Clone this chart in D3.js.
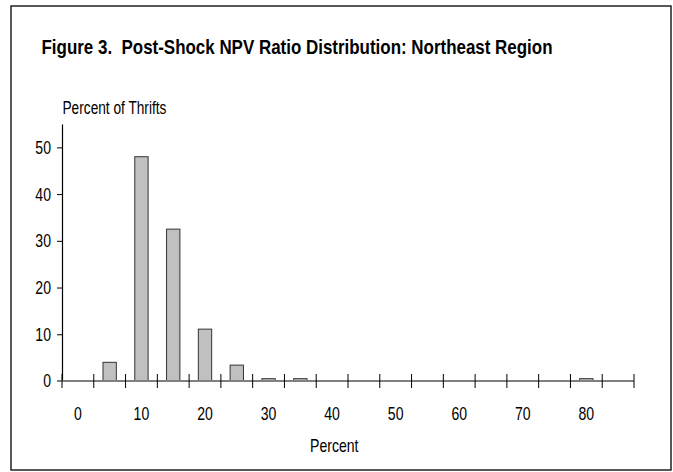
<!DOCTYPE html>
<html>
<head>
<meta charset="utf-8">
<script src="https://cdn.jsdelivr.net/npm/d3@7"></script>
<style>
	body { margin: 0; background: #fff; }
	text { font-family: "Liberation Sans", Arial, sans-serif; fill: #000; }
</style>
</head>
<body>
<svg id="chart"></svg>
<script>
// DATA

var categories = [0, 5, 10, 15, 20, 25, 30, 35, 40, 45, 50, 55, 60, 65, 70, 75, 80, 85];
var percentOfThrifts = [0, 4, 48, 32.5, 11.1, 3.4, 0.5, 0.5, 0, 0, 0, 0, 0, 0, 0, 0, 0.5, 0];
var xTickLabels = [0, 10, 20, 30, 40, 50, 60, 70, 80];
var yTicks = [0, 10, 20, 30, 40, 50];

// DIMENSIONS

var width = 673,
	height = 472,
	plotLeft = 62,
	plotRight = 634,
	plotTop = 124,
	plotBottom = 381,
	narrow = 0.76; // squeeze Liberation Sans to look like Arial Narrow

var svg = d3.select("#chart")
	.attr('width', width)
	.attr('height', height);

// squeeze a text selection horizontally
function condense(sel, factor) {
	sel.each(function() {
		var len = this.getComputedTextLength();
		d3.select(this)
			.attr('textLength', len * (factor || narrow))
			.attr('lengthAdjust', 'spacingAndGlyphs');
	});
}

// frame
svg.append('rect')
	.attr('x', 11)
	.attr('y', 6)
	.attr('width', 660)
	.attr('height', 464)
	.style('fill', 'none')
	.style('stroke', '#222')
	.style('stroke-width', 1.5);

svg.append('text')
	.attr('x', 41.5)
	.attr('y', 54)
	.style('font-size', '21px')
	.style('font-weight', 'bold')
	.attr('xml:space', 'preserve')
	.attr('textLength', 511)
	.attr('lengthAdjust', 'spacingAndGlyphs')
	.text('Figure 3.  Post-Shock NPV Ratio Distribution: Northeast Region');

svg.append('text')
	.attr('x', 62.5)
	.attr('y', 114)
	.style('font-size', '18px')
	.text('Percent of Thrifts')
	.call(condense);

// SCALES

var xScale = d3.scaleBand()
	.domain(categories)
	.range([plotLeft, plotRight])
	.paddingInner(0.58)
	.paddingOuter(0.29);

var yScale = d3.scaleLinear()
	.domain([0, 55])
	.range([plotBottom, plotTop]);

var step = xScale.step();

// y axis
var yAxis = d3.axisLeft(yScale)
	.tickValues(yTicks)
	.tickSize(5)
	.tickSizeOuter(0)
	.tickPadding(6);

var yGuide = svg.append('g')
	.attr('transform', 'translate(' + plotLeft + ',0)')
	.call(yAxis);
yGuide.select('.domain').style('stroke', '#000').style('stroke-width', 1.2);
yGuide.selectAll('.tick line').style('stroke', '#000');
yGuide.selectAll('.tick text')
	.style('font-size', '18.5px')
	.style('font-family', '"Liberation Sans", Arial, sans-serif')
	.call(condense);

// bars
svg.selectAll('rect.bar').data(percentOfThrifts)
	.enter().append('rect')
	.attr('class', 'bar')
	.style('fill', '#c0c0c0')
	.style('stroke', '#333')
	.style('stroke-width', 1)
	.attr('x', function(d, i) { return xScale(categories[i]); })
	.attr('width', xScale.bandwidth())
	.attr('y', function(d) { return yScale(d); })
	.attr('height', function(d) { return yScale(0) - yScale(d); })
	.style('display', function(d) { return d > 0 ? null : 'none'; });

// x axis line
svg.append('line')
	.attr('x1', plotLeft - 5)
	.attr('x2', plotRight)
	.attr('y1', yScale(0))
	.attr('y2', yScale(0))
	.style('stroke', '#808080')
	.style('stroke-width', 2);

// x ticks at the bin edges
svg.selectAll('line.xtick').data(d3.range(categories.length + 1))
	.enter().append('line')
	.attr('class', 'xtick')
	.attr('x1', function(i) { return plotLeft + i * step; })
	.attr('x2', function(i) { return plotLeft + i * step; })
	.attr('y1', yScale(0) - 7)
	.attr('y2', yScale(0) + 7)
	.style('stroke', '#000')
	.style('stroke-width', 1);

svg.selectAll('text.xlabel').data(xTickLabels)
	.enter().append('text')
	.attr('class', 'xlabel')
	.attr('x', function(d) { return xScale(d) + xScale.bandwidth() / 2; })
	.attr('y', 420)
	.attr('text-anchor', 'middle')
	.style('font-size', '18.5px')
	.text(function(d) { return d; })
	.call(condense);

svg.append('text')
	.attr('x', 310)
	.attr('y', 451.5)
	.style('font-size', '18.5px')
	.text('Percent')
	.call(condense);
</script>
</body>
</html>
